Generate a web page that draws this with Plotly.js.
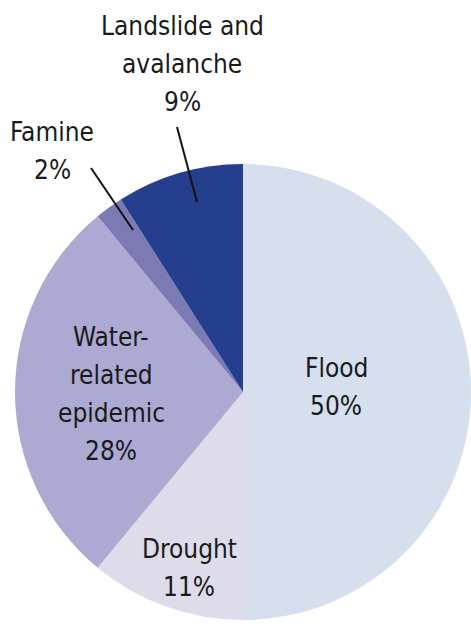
<!DOCTYPE html>
<html>
<head>
<meta charset="utf-8">
<script src="https://cdn.plot.ly/plotly-3.0.1.min.js"></script>
<style>
  html, body { margin: 0; padding: 0; background: #ffffff; }
  #chart { width: 471px; height: 633px; }
  #chart.condensed text { font-stretch: condensed; }
</style>
</head>
<body>
<div id="chart"></div>
<script>
// Data
const categories = ["Flood", "Drought", "Water-related epidemic", "Famine", "Landslide and avalanche"];
const values = [50, 11, 28, 2, 9];
const labelLines = [["Flood"], ["Drought"], ["Water-", "related", "epidemic"], ["Famine"], ["Landslide and", "avalanche"]];
const colors = ["#d5dfee", "#dedbeb", "#aca9d3", "#7c7ab2", "#253f8e"];

const W = 471, H = 633;
const px = x => x / W;
const py = y => 1 - y / H;

// Pick an installed narrow font
const ctx = document.createElement("canvas").getContext("2d");
function width(font, stretch) {
  ctx.font = "100px " + font;
  try { ctx.fontStretch = stretch || "normal"; } catch (e) {}
  return ctx.measureText("Landslide and").width;
}
function installed(name) {
  return width("'" + name + "', monospace") !== width("monospace") ||
         width("'" + name + "', serif") !== width("serif");
}
let FONT = "'DejaVu Sans', sans-serif", stretch = "condensed";
for (const f of ["Liberation Sans Narrow", "Arial Narrow", "DejaVu Sans Condensed"]) {
  if (installed(f)) { FONT = "'" + f + "', sans-serif"; stretch = "normal"; break; }
}
if (stretch === "condensed") document.getElementById("chart").classList.add("condensed");
const w100 = width(FONT, stretch);
const FSIZE = Math.max(20, Math.min(29, Math.round(165 / w100 * 100)));

const total = values.reduce((a, b) => a + b, 0);

// Label block centres (pixels) and line pitch
const labelPos = [
  [336, 387],
  [189, 568],
  [111, 394],
  [52, 151],
  [182, 64]
];
const PITCH = 38;

const annotations = [];
categories.forEach((c, i) => {
  const lines = labelLines[i].concat([Math.round(values[i] / total * 100) + "%"]);
  lines.forEach((t, k) => {
    annotations.push({
      xref: "paper", yref: "paper",
      x: px(labelPos[i][0]),
      y: py(labelPos[i][1] + (k - (lines.length - 1) / 2) * PITCH),
      xanchor: "center", yanchor: "middle",
      text: t, showarrow: false,
      font: { family: FONT, size: FSIZE, color: "#1a1a1a" }
    });
  });
});

// Leader lines for the outside labels
const leaders = [
  [91, 168, 133, 230],
  [177, 127, 197, 202]
];
const shapes = leaders.map(l => ({
  type: "line", xref: "paper", yref: "paper",
  x0: px(l[0]), y0: py(l[1]), x1: px(l[2]), y1: py(l[3]),
  line: { color: "#111111", width: 2 }
}));

const trace = {
  type: "pie",
  labels: categories,
  values: values,
  sort: false,
  direction: "clockwise",
  rotation: 0,
  textinfo: "none",
  hoverinfo: "label+percent",
  marker: { colors: colors, line: { width: 0 } },
  domain: { x: [px(15), 1], y: [py(620), py(164)] }
};

Plotly.newPlot("chart", [trace], {
  width: W, height: H,
  margin: { l: 0, r: 0, t: 0, b: 0 },
  showlegend: false,
  paper_bgcolor: "#ffffff",
  annotations: annotations,
  shapes: shapes
}, { staticPlot: true });
</script>
</body>
</html>
